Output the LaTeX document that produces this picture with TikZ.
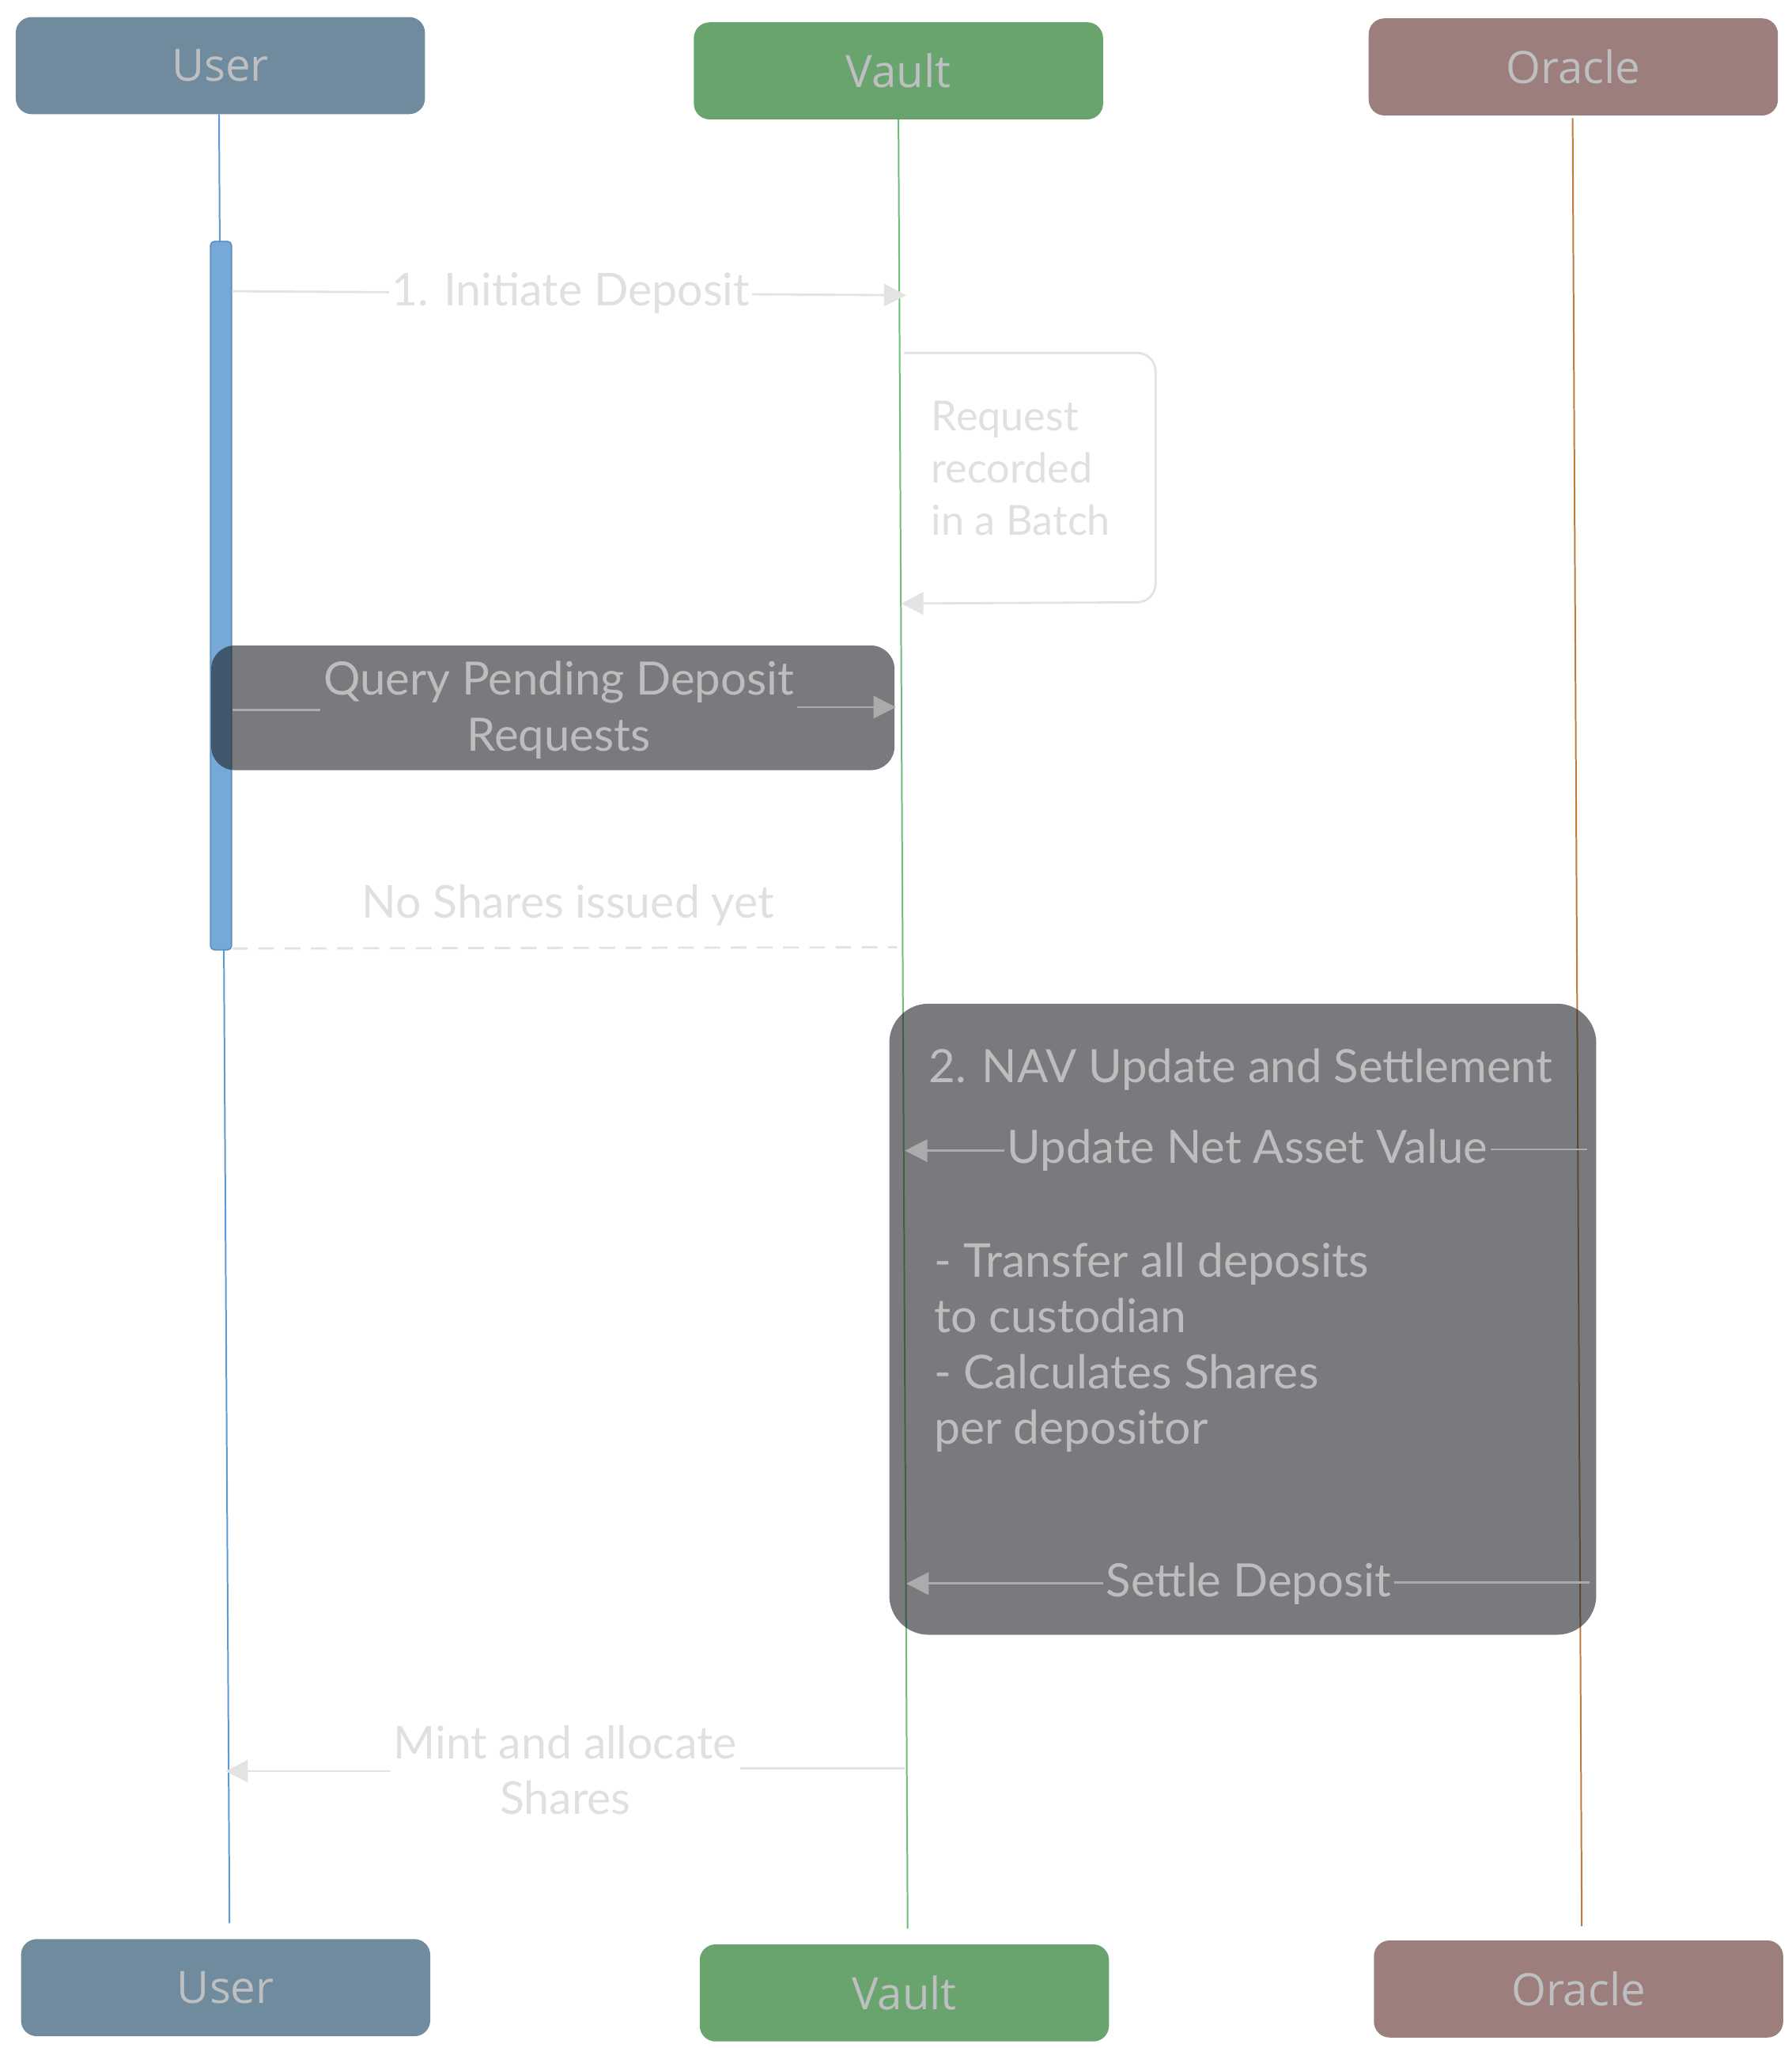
\documentclass[tikz,border=0pt]{standalone}
\usepackage{fontspec}
\setmainfont{Lato}
\newfontfamily\hdrfont{Open Sans}
\usetikzlibrary{arrows.meta,calc}
\definecolor{userc}{HTML}{708B9E}
\definecolor{vaultc}{HTML}{69A46F}
\definecolor{oraclec}{HTML}{9C7E7D}
\definecolor{hdrtxt}{HTML}{BDBFC1}
\definecolor{userl}{HTML}{5B9BD5}
\definecolor{vaultl}{HTML}{6CBF74}
\definecolor{oraclel}{HTML}{C07A3C}
\definecolor{actc}{HTML}{76A9D6}
\definecolor{actb}{HTML}{5B8FC4}
\definecolor{lighttxt}{HTML}{E0E0E0}
\definecolor{lightln}{HTML}{E3E3E3}
\definecolor{darkfill}{HTML}{1E2226}
\definecolor{darktxt}{HTML}{BDBDBD}
\definecolor{darkln}{HTML}{ABABAB}
\tikzset{
  hdr/.style={rounded corners=12pt, minimum width=312pt, minimum height=74pt, inner sep=0pt,
    text=hdrtxt, font=\hdrfont\fontsize{34}{38}\selectfont},
  life/.style={line width=1.2pt},
  msgline/.style={draw=lightln, line width=1.7pt},
  lbl/.style={fill=white, inner xsep=2pt, inner ysep=0pt, text=lighttxt, font=\fontsize{34.5}{42}\selectfont, align=center},
  dbox/.style={fill=darkfill, fill opacity=0.6, inner sep=0pt},
  dlbl/.style={inner xsep=2pt, inner ysep=0pt, text=darktxt, font=\fontsize{35}{43}\selectfont, align=center},
  dline/.style={draw=darkln, line width=1.7pt},
  ltip/.style={-{Triangle[length=17pt,width=17pt,color=lightln]}},
  dtip/.style={-{Triangle[length=17pt,width=17pt,color=darkln]}},
}
\begin{document}
\begin{tikzpicture}[x=1pt,y=-1pt]
\useasboundingbox (0,0) rectangle (1366,1561);
% header boxes
\node[hdr, fill=userc] (u1) at (168,50) {User};
\node[hdr, fill=vaultc] (v1) at (685,54) {Vault};
\node[hdr, fill=oraclec] (o1) at (1199.5,51) {Oracle};
\node[hdr, fill=userc] (u2) at (172,1515) {User};
\node[hdr, fill=vaultc] (v2) at (689.5,1519) {Vault};
\node[hdr, fill=oraclec] (o2) at (1203.5,1516) {Oracle};
% lifelines
\coordinate (ut) at (167,87); \coordinate (ub) at (175,1466);
\coordinate (vt) at (685,91); \coordinate (vb) at (692,1470);
\coordinate (ot) at (1199,90); \coordinate (ob) at (1206,1468);
\draw[life, userl] (ut) -- (ub);
\draw[life, vaultl] (vt) -- (vb);
\draw[life, oraclel] (ot) -- (ob);
% activation bar
\node[fill=actc, draw=actb, line width=1pt, rounded corners=3pt, minimum width=16pt, minimum height=540pt, inner sep=0pt] (act) at (168.5,454) {};
% message 1
\coordinate (m1s) at (177,222); \coordinate (m1e) at (691,225);
\draw[msgline, ltip] (m1s) -- node[lbl, pos=0.502] (m1l) {1. Initiate Deposit} (m1e);
% self message
\coordinate (s1) at (689,269); \coordinate (s2) at (881,269); \coordinate (s3) at (881,459); \coordinate (s4) at (687,460);
\draw[msgline, rounded corners=14pt, ltip] (s1) -- (s2) -- (s3) -- (s4);
\node[anchor=west, inner sep=0pt, text=lighttxt, align=left, font=\fontsize{31.5}{40}\selectfont] (sl) at (710,357) {Request\\recorded\\in a Batch};
% query box
\node[dbox, rounded corners=18pt, minimum width=521pt, minimum height=95pt] (q) at (421.5,539.5) {};
\node[dlbl] (ql) at (426,541) {Query Pending Deposit\\Requests};
\coordinate (qs) at (177,541); \coordinate (qe) at (683,539);
\draw[dline] (qs) -- (ql.west |- qs);
\draw[dline, dtip] (ql.east |- qe) -- (qe);
% no shares
\node[lbl, fill=none] (nl) at (433,690) {No Shares issued yet};
\coordinate (ns) at (177,723); \coordinate (ne) at (684,722);
\draw[msgline, dash pattern=on 12pt off 8pt] (ns) -- (ne);
% NAV box
\node[dbox, rounded corners=30pt, minimum width=539pt, minimum height=481pt] (nav) at (947.5,1005.5) {};
\node[anchor=west, inner sep=0pt, text=darktxt, font=\fontsize{35}{43}\selectfont] (navt) at (708,815) {2. NAV Update and Settlement};
\node[dlbl] (al) at (951,877) {Update Net Asset Value};
\coordinate (as) at (1210,876); \coordinate (ae) at (690,877);
\draw[dline] (as) -- (al.east |- as);
\draw[dline, dtip] (al.west |- ae) -- (ae);
\node[anchor=west, inner sep=0pt, text=darktxt, align=left, font=\fontsize{35.5}{42.3}\selectfont] (bl) at (712,1027) {- Transfer all deposits\\to custodian\\- Calculates Shares\\per depositor};
\node[dlbl] (sdl) at (952,1207) {Settle Deposit};
\coordinate (sds) at (1212,1206); \coordinate (sde) at (691,1207);
\draw[dline] (sds) -- (sdl.east |- sds);
\draw[dline, dtip] (sdl.west |- sde) -- (sde);
% mint
\node[lbl, fill=none] (ml) at (431,1349) {Mint and allocate\\Shares};
\coordinate (mts) at (690,1348); \coordinate (mte) at (172,1350);
\draw[msgline] (mts) -- (ml.east |- mts);
\draw[msgline, ltip] (ml.west |- mte) -- (mte);
\end{tikzpicture}
\end{document}
